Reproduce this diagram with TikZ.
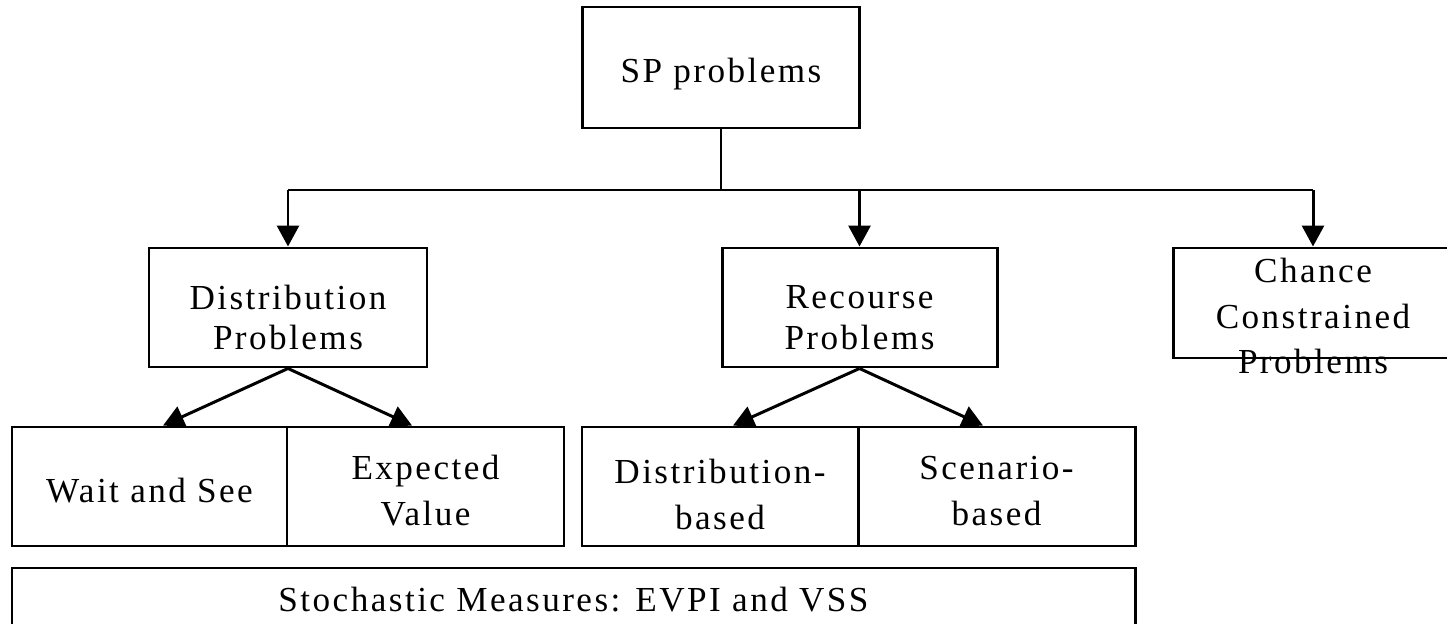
\documentclass[tikz,border=0pt]{standalone}
\usepackage{fontspec}
\setmainfont{Liberation Serif}[LetterSpace=7]
\usepackage{tikz}
\usetikzlibrary{shapes,arrows.meta}
\tikzstyle{box} = [rectangle, draw=black, line width=1.7pt, align=center, inner sep=0pt, font=\fontsize{20}{26}\selectfont]
\tikzstyle{line} = [draw, line width=1.7pt]
\tikzstyle{arrow} = [line width=1.7pt, -{Triangle[length=0.42cm,width=0.44cm]}]

\begin{document}
\begin{tikzpicture}
        \clip (0,0) rectangle (28.94,-12.48);
        \node (SP) [box, xshift=14.42cm, yshift=-1.35cm, minimum width=5.54cm, minimum height=2.42cm, text height=21.8pt] {SP problems};
        \coordinate (bar) at (0,-3.8);

        \node (Dist) [box, xshift=5.76cm, yshift=-6.15cm, minimum width=5.56cm, minimum height=2.38cm, text height=48.2pt, font=\fontsize{20}{23}\selectfont] {Distribution\\Problems};
        \node (Rec) [box, xshift=17.19cm, yshift=-6.15cm, minimum width=5.5cm, minimum height=2.38cm, text height=47.6pt, font=\fontsize{20}{23}\selectfont] {Recourse\\Problems};
        \node (Chance) [box, xshift=26.26cm, yshift=-6.06cm, minimum width=5.6cm, minimum height=2.2cm] {};
        \node (ChanceT) [box, draw=none, anchor=north, yshift=-0.2cm] at (Chance.north) {Chance\\Constrained\\Problems};

        \draw [line] (SP.south) -- (SP.south |- bar);
        \draw [line] (Dist.north |- bar) -- (Chance.north |- bar);
        \draw [arrow] (Dist.north |- bar) -- (Dist.north);
        \draw [arrow] (Rec.north |- bar) -- (Rec.north);
        \draw [arrow] (Chance.north |- bar) -- (Chance.north);

        \node (WaitSee) [box, xshift=2.99cm, yshift=-9.73cm, minimum width=5.5cm, minimum height=2.38cm, text height=18.4pt] {Wait and See};
        \node (Expected) [box, xshift=8.51cm, yshift=-9.73cm, minimum width=5.54cm, minimum height=2.38cm, text height=44.4pt] {Expected\\Value};
        \node (DistB) [box, xshift=14.4cm, yshift=-9.73cm, minimum width=5.52cm, minimum height=2.38cm, text height=48.8pt] {Distribution-\\based};
        \node (Scen) [box, xshift=19.93cm, yshift=-9.73cm, minimum width=5.54cm, minimum height=2.38cm, text height=44.4pt] {Scenario-\\based};

        \draw [arrow] (Dist.south) -- ([xshift=0.27cm]WaitSee.north);
        \draw [arrow] (Dist.south) -- ([xshift=-0.27cm]Expected.north);
        \draw [arrow] (Rec.south) -- ([xshift=0.26cm]DistB.north);
        \draw [arrow] (Rec.south) -- ([xshift=-0.27cm]Scen.north);

        \node (Stoch) [box, xshift=11.47cm, yshift=-12.0cm, minimum width=22.46cm, minimum height=1.28cm] {Stochastic Measures: EVPI and VSS};
\end{tikzpicture}
\end{document}
